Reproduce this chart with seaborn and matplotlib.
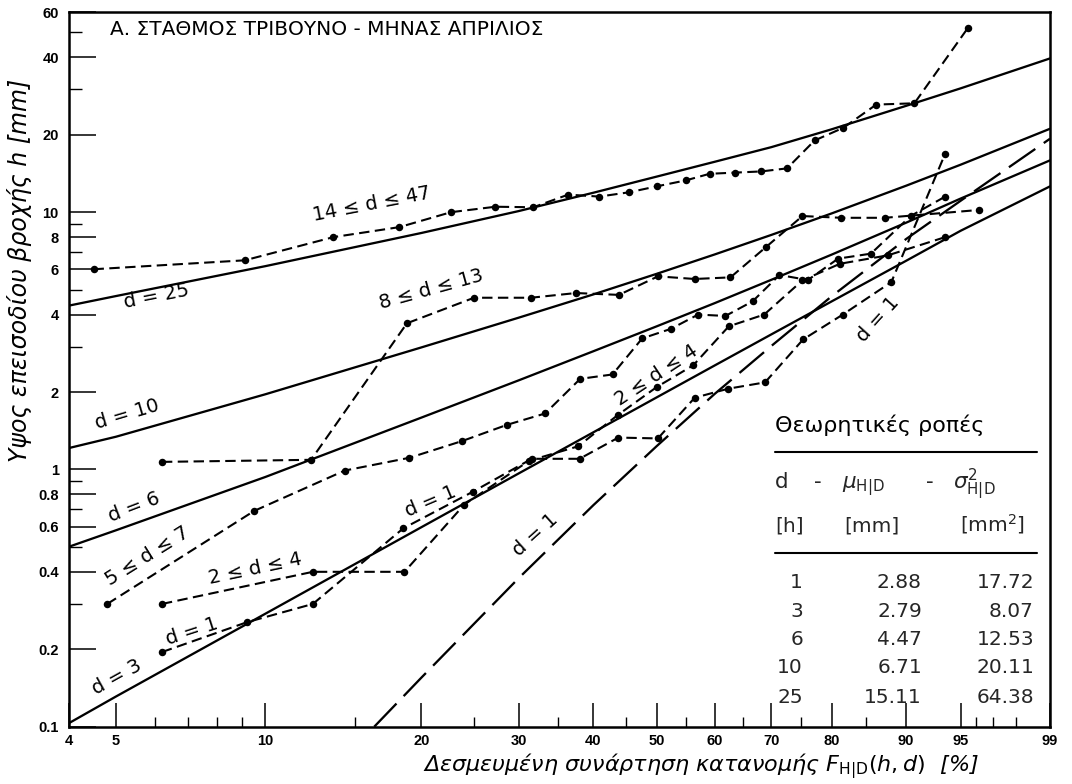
import numpy as np
import pandas as pd
import matplotlib
matplotlib.use("Agg")
import matplotlib.pyplot as plt
from matplotlib.lines import Line2D
from matplotlib.ticker import FixedLocator, FixedFormatter, NullFormatter
import seaborn as sns

# ---------------------------------------------------------------------------
# Data: rainfall-event depth h [mm] vs conditional CDF F(h|d) [%]
# ---------------------------------------------------------------------------
# Theoretical curves, read at the probability grid
theory_F = [4, 5, 10, 20, 30, 40, 50, 60, 70, 80, 90, 95, 99]
h_d25 = [4.33, 4.72, 6.17, 8.30, 10.1, 11.9, 13.75, 15.7, 17.9, 21.0, 25.9, 30.3, 39.6]
h_d10 = [1.21, 1.34, 1.96, 2.98, 3.89, 4.79, 5.76, 6.85, 8.16, 9.89, 12.67, 15.3, 21.1]
h_d6 = [0.50, 0.58, 0.935, 1.59, 2.22, 2.88, 3.60, 4.43, 5.46, 6.84, 9.1, 11.3, 15.9]
h_d3 = [0.103, 0.131, 0.275, 0.596, 0.965, 1.394, 1.906, 2.536, 3.35, 4.50, 6.47, 8.47, 12.6]

# Theoretical d = 1 curve (long dashes), starting at the bottom of the axis
d1_theory_F = [16.3, 20, 30, 40, 50, 60, 70, 80, 90, 95, 99]
h_d1_theory = [0.10, 0.155, 0.378, 0.726, 1.232, 1.966, 3.02, 4.71, 7.86, 11.08, 19.3]

# Empirical samples (dashed lines with dots)
F_14_47 = [4.5, 9.1, 13.6, 18.2, 22.7, 27.3, 31.8, 36.4, 40.9, 45.5, 50.0,
           55.0, 59.1, 63.6, 68.2, 72.7, 77.3, 81.8, 86.4, 90.9, 95.5]
h_14_47 = [6.0, 6.5, 8.0, 8.75, 10.0, 10.5, 10.45, 11.7, 11.5, 11.95, 12.6,
           13.3, 14.1, 14.25, 14.4, 14.8, 19.0, 21.3, 26.2, 26.5, 52.0]

F_8_13 = [6.2, 12.3, 18.8, 25.0, 31.5, 37.5, 43.9, 50.2, 56.5, 62.8, 69.0,
          75.3, 81.5, 87.5, 96.2]
h_8_13 = [1.07, 1.09, 3.7, 4.65, 4.65, 4.85, 4.77, 5.63, 5.5, 5.58, 7.3,
          9.66, 9.51, 9.51, 10.2]

F_5_7 = [4.8, 9.5, 14.3, 19.0, 23.8, 28.6, 33.3, 38.1, 42.9, 47.6, 52.4,
         57.1, 61.9, 66.7, 71.4, 76.2, 81.0, 85.7, 90.5, 93.8]
h_5_7 = [0.30, 0.69, 0.99, 1.11, 1.29, 1.49, 1.65, 2.25, 2.34, 3.23, 3.52,
         4.0, 3.95, 4.5, 5.7, 5.45, 6.6, 6.9, 9.66, 11.5]

F_2_4 = [6.2, 12.4, 18.6, 24.0, 31.25, 37.8, 43.75, 50.0, 56.25, 62.5, 68.75,
         75.3, 81.25, 87.9, 93.8]
h_2_4 = [0.30, 0.40, 0.40, 0.73, 1.08, 1.23, 1.63, 2.09, 2.54, 3.6, 4.0,
         5.43, 6.3, 6.8, 8.0]

F_1 = [6.2, 9.2, 12.4, 18.5, 24.9, 31.6, 38.0, 43.8, 50.2, 56.5, 62.4, 68.9,
       75.4, 81.7, 88.3, 93.8]
h_1 = [0.195, 0.255, 0.30, 0.59, 0.82, 1.10, 1.10, 1.33, 1.32, 1.90, 2.06,
       2.18, 3.2, 4.0, 5.35, 16.9]

# Axis ticks
x_major = [4, 5, 10, 20, 30, 40, 50, 60, 70, 80, 90, 95, 99]
x_minor = [6, 7, 8, 9, 15, 25, 35, 45, 55, 65, 75, 85, 96, 97, 98]
y_major = [0.1, 0.2, 0.4, 0.6, 0.8, 1, 2, 4, 6, 8, 10, 20, 40, 60]
y_major_labels = ["0.1", "0.2", "0.4", "0.6", "0.8", "1", "2", "4", "6", "8",
                  "10", "20", "40", "60"]
y_minor = [0.3, 0.5, 0.7, 0.9, 3, 5, 7, 9, 30, 50]

# Table of theoretical moments
table_d = ["1", "3", "6", "10", "25"]
table_mu = ["2.88", "2.79", "4.47", "6.71", "15.11"]
table_var = ["17.72", "8.07", "12.53", "20.11", "64.38"]

# ---------------------------------------------------------------------------
sns.set_theme(style="white")
plt.rcParams["font.family"] = ["DejaVu Sans"]
plt.rcParams["mathtext.fontset"] = "dejavusans"

W, H = 1072, 784
fig = plt.figure(figsize=(W / 100, H / 100), dpi=100)
fig.patch.set_facecolor("white")

ax_left, ax_right, ax_top, ax_bottom = 68.5, 1050.0, 12.0, 726.7
ax = fig.add_axes([ax_left / W, 1 - ax_bottom / H,
                   (ax_right - ax_left) / W, (ax_bottom - ax_top) / H])
ax.set_facecolor("white")


def fig_xy(px, py):
    return px / W, 1 - py / H


SOLID = dict(color="black", linewidth=1.65, linestyle="-")
LONGDASH = dict(color="black", linewidth=1.65, linestyle=(0, (14, 4.5)))
DOTTED_SERIES = dict(color="black", linewidth=1.5, linestyle=(0, (5, 2.6)),
                     marker="o", markersize=5.4, markeredgewidth=0,
                     markerfacecolor="black")

for hvals in (h_d25, h_d10, h_d6, h_d3):
    sns.lineplot(x=theory_F, y=hvals, ax=ax, sort=False, estimator=None,
                 legend=False, **SOLID)
sns.lineplot(x=d1_theory_F, y=h_d1_theory, ax=ax, sort=False, estimator=None,
             legend=False, **LONGDASH)

for Fv, hv in ((F_14_47, h_14_47), (F_8_13, h_8_13), (F_5_7, h_5_7),
               (F_2_4, h_2_4), (F_1, h_1)):
    sns.lineplot(x=Fv, y=hv, ax=ax, sort=False, estimator=None, legend=False,
                 **DOTTED_SERIES)


# Weibull probability scale on x, logarithmic on y
def weibull_fwd(p):
    p = np.clip(np.asarray(p, dtype=float), 1e-6, 100 - 1e-6)
    return np.log(-np.log(1 - p / 100.0))


def weibull_inv(z):
    z = np.asarray(z, dtype=float)
    return 100.0 * (1 - np.exp(-np.exp(z)))


ax.set_xscale("function", functions=(weibull_fwd, weibull_inv))
ax.set_yscale("log")
ax.set_xlim(4, 99)
ax.set_ylim(0.1, 60)

ax.xaxis.set_major_locator(FixedLocator(x_major))
ax.xaxis.set_major_formatter(FixedFormatter([str(v) for v in x_major]))
ax.xaxis.set_minor_locator(FixedLocator(x_minor))
ax.xaxis.set_minor_formatter(NullFormatter())
ax.yaxis.set_major_locator(FixedLocator(y_major))
ax.yaxis.set_major_formatter(FixedFormatter(y_major_labels))
ax.yaxis.set_minor_locator(FixedLocator(y_minor))
ax.yaxis.set_minor_formatter(NullFormatter())

ax.tick_params(axis="x", which="major", direction="in", length=17, width=1.1,
               color="black", pad=5, top=False, bottom=True)
ax.tick_params(axis="x", which="minor", direction="in", length=7.5, width=1.0,
               color="black", top=False, bottom=True)
ax.tick_params(axis="y", which="major", direction="in", length=19.5, width=1.1,
               color="black", pad=7, right=False, left=True)
ax.tick_params(axis="y", which="minor", direction="in", length=9, width=1.0,
               color="black", right=False, left=True)
for lab in ax.get_xticklabels() + ax.get_yticklabels():
    lab.set_fontfamily("Liberation Sans")
    lab.set_fontweight("bold")
    lab.set_fontsize(10.5)
    lab.set_color("black")

for sp in ax.spines.values():
    sp.set_visible(True)
    sp.set_color("black")
    sp.set_linewidth(1.8)
ax.grid(False)
ax.set_xlabel("")
ax.set_ylabel("")

# Axis titles
fig.text(*fig_xy(701, 766),
         "Δεσμευμένη συνάρτηση κατανομής $F_{\\mathrm{H|D}}(h,d)$  [%]",
         ha="center", va="center", fontsize=16, style="italic", color="black")
fig.text(*fig_xy(20, 270), "Υψος επεισοδίου βροχής h [mm]",
         ha="center", va="center", rotation=90, fontsize=17,
         style="italic", color="black")

# Panel title
fig.text(*fig_xy(110, 35), "Α. ΣΤΑΘΜΟΣ ΤΡΙΒΟΥΝΟ - ΜΗΝΑΣ ΑΠΡΙΛΙΟΣ",
         ha="left", va="baseline", fontsize=14.5, color="black")

# Curve labels: (text, x px, y px, rotation)
curve_labels = [
    ("14 ≤ d ≤ 47", 372, 204, 11),
    ("d = 25", 156, 296, 11),
    ("8 ≤ d ≤ 13", 431, 289, 15.5),
    ("d = 10", 127, 414, 16.5),
    ("d = 6", 134, 507, 21),
    ("5 ≤ d ≤ 7", 147, 556, 32),
    ("2 ≤ d ≤ 4", 255, 569, 12),
    ("d = 1", 192, 631, 18),
    ("d = 3", 117, 677, 29),
    ("d = 1", 431, 501, 23),
    ("d = 1", 535, 535, 42),
    ("2 ≤ d ≤ 4", 657, 375, 33.5),
    ("d = 1", 878, 319, 48),
]
for txt, px, py, rot in curve_labels:
    fig.text(*fig_xy(px, py), txt, ha="center", va="center", rotation=rot,
             rotation_mode="anchor", fontsize=14, color="black")

# Table of theoretical moments
tx0, tx1 = 775, 1037
fig.text(*fig_xy(tx0, 432), "Θεωρητικές ροπές", ha="left", va="baseline",
         fontsize=16, color="black")
for ly in (452, 553):
    fig.add_artist(Line2D([tx0 / W, tx1 / W], [1 - ly / H, 1 - ly / H],
                          color="black", linewidth=1.5))
fig.text(*fig_xy(tx0, 488), "d", ha="left", va="baseline", fontsize=15.5)
fig.text(*fig_xy(818, 488), "-", ha="center", va="baseline", fontsize=15.5)
fig.text(*fig_xy(842, 488), "$\\mu_{\\mathrm{H|D}}$", ha="left",
         va="baseline", fontsize=15.5)
fig.text(*fig_xy(930, 488), "-", ha="center", va="baseline", fontsize=15.5)
fig.text(*fig_xy(953, 488), "$\\sigma_{\\mathrm{H|D}}^{2}$", ha="left",
         va="baseline", fontsize=15.5)
fig.text(*fig_xy(tx0, 531), "[h]", ha="left", va="baseline", fontsize=14.5)
fig.text(*fig_xy(844, 531), "[mm]", ha="left", va="baseline", fontsize=14.5)
fig.text(*fig_xy(960, 531), "[mm$^{2}$]", ha="left", va="baseline", fontsize=14.5)

row_base = [588, 617, 645, 673, 703]
for dv, mv, vv, yb in zip(table_d, table_mu, table_var, row_base):
    fig.text(*fig_xy(803, yb), dv, ha="right", va="baseline", fontsize=14.5)
    fig.text(*fig_xy(922, yb), mv, ha="right", va="baseline", fontsize=14.5)
    fig.text(*fig_xy(1034, yb), vv, ha="right", va="baseline", fontsize=14.5)

fig.savefig("out.png", dpi=100, facecolor="white")
